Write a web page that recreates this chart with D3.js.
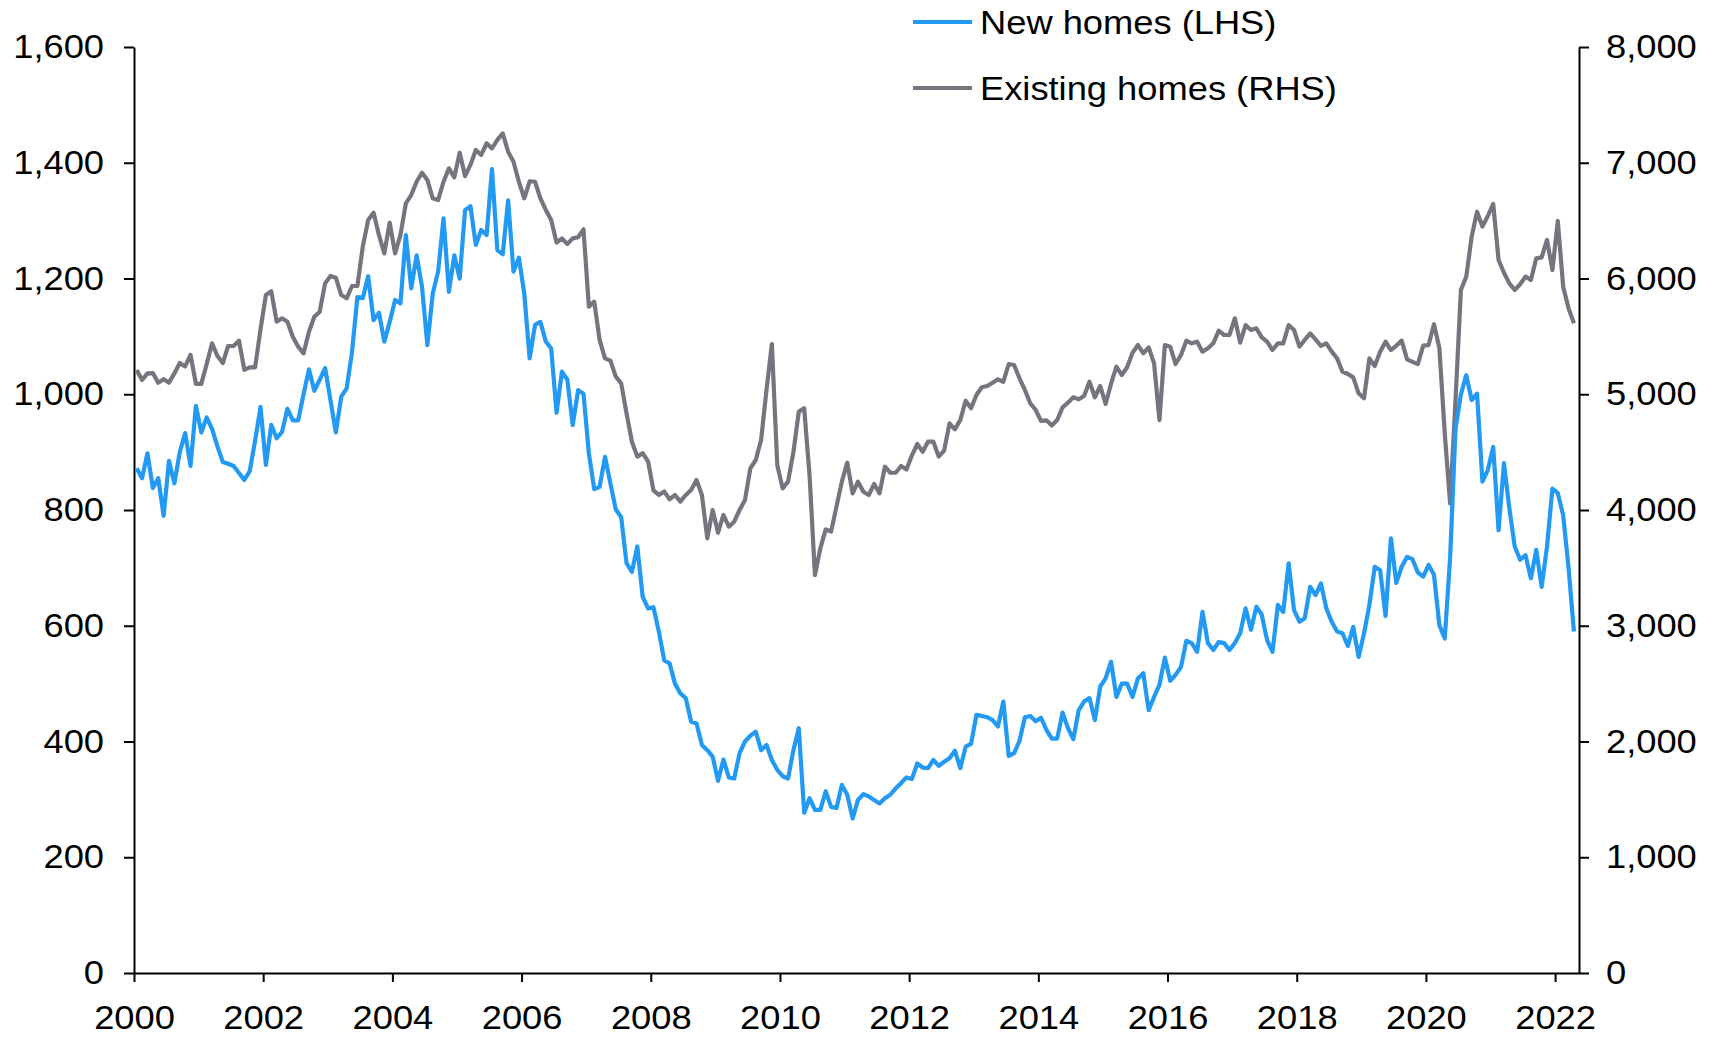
<!DOCTYPE html>
<html><head><meta charset="utf-8">
<script src="https://cdn.jsdelivr.net/npm/d3@7/dist/d3.min.js"></script>
<style>
body{margin:0;background:#fff}
svg{display:block}
text{font-family:"Liberation Sans",Arial,sans-serif;fill:#000}
</style>
</head><body>
<svg id="chart" width="1716" height="1038"></svg>
<script>
// Monthly data, Jan 2000 .. Apr 2022 (thousands, annualised)
const startYear = 2000;
const newHomes = [
872,855,898,838,855,790,885,846,900,933,876,980,
934,960,940,910,883,880,876,864,852,867,920,978,
878,947,924,935,975,955,955,1000,1043,1006,1025,1045,
990,934,996,1010,1073,1168,1166,1204,1128,1141,1091,1125,
1163,1157,1275,1183,1240,1186,1085,1174,1212,1304,1177,1240,
1200,1318,1325,1258,1284,1275,1389,1249,1242,1335,1212,1236,
1174,1062,1120,1125,1091,1079,968,1039,1025,947,1007,1001,
898,836,840,892,846,801,788,708,693,737,650,630,
632,590,540,535,500,483,475,434,431,394,385,374,
332,369,338,336,380,400,410,417,385,394,368,351,
340,336,385,423,277,302,282,282,314,287,285,325,
308,267,299,309,305,299,293,302,308,319,328,338,
335,362,355,354,368,358,365,371,384,354,391,396,
446,444,442,437,426,469,375,380,401,442,444,435,
441,420,405,405,450,423,404,454,469,475,437,495,
509,538,477,500,500,477,509,518,454,477,498,545,
505,515,529,574,570,555,624,570,558,572,570,558,
570,587,630,593,633,619,575,555,636,624,708,627,
607,613,667,653,673,630,607,590,587,565,598,546,
587,636,702,696,617,751,674,702,719,715,692,685,
705,688,601,578,718,940,1000,1033,990,1001,849,869,
909,765,881,803,737,714,722,682,731,667,737,837,
829,791,700,590
];
const existingHomes = [
5210,5123,5180,5183,5100,5130,5100,5180,5270,5240,5340,5090,
5090,5260,5440,5330,5270,5417,5417,5463,5210,5233,5233,5560,
5857,5890,5627,5656,5627,5497,5411,5353,5540,5670,5713,5958,
6022,6007,5857,5829,5935,5935,6275,6505,6568,6376,6217,6482,
6217,6376,6649,6721,6836,6914,6851,6693,6678,6836,6952,6874,
7087,6885,6981,7111,7067,7168,7124,7197,7254,7096,7009,6836,
6693,6840,6836,6693,6592,6505,6310,6347,6298,6347,6356,6425,
5757,5800,5469,5310,5290,5152,5095,4835,4590,4461,4490,4420,
4170,4130,4160,4092,4130,4072,4130,4173,4259,4130,3755,4000,
3804,3957,3856,3899,4000,4086,4360,4432,4605,5037,5434,4389,
4187,4245,4500,4850,4879,4300,3438,3669,3833,3813,4029,4245,
4409,4144,4245,4158,4130,4225,4144,4374,4322,4322,4380,4350,
4470,4570,4504,4590,4590,4461,4513,4749,4697,4777,4944,4879,
4994,5060,5071,5100,5129,5108,5261,5253,5138,5037,4922,4864,
4770,4775,4730,4777,4887,4927,4974,4956,4985,5108,4974,5071,
4916,5089,5238,5166,5233,5359,5425,5354,5405,5267,4777,5425,
5411,5261,5339,5463,5440,5454,5368,5397,5440,5549,5512,5512,
5656,5446,5598,5555,5570,5492,5454,5382,5440,5440,5598,5555,
5411,5470,5526,5474,5417,5440,5368,5310,5195,5175,5146,5008,
4965,5310,5244,5368,5454,5382,5420,5463,5302,5280,5261,5420,
5425,5605,5400,4663,4058,4950,5901,6016,6361,6577,6448,6540,
6644,6160,6050,5958,5901,5950,6016,5987,6174,6183,6333,6073,
6497,5929,5742,5613
];
const leftTicks = [0,200,400,600,800,1000,1200,1400,1600];
const rightTicks = [0,1000,2000,3000,4000,5000,6000,7000,8000];
const yearTicks = [2000,2002,2004,2006,2008,2010,2012,2014,2016,2018,2020,2022];
const seriesNames = ["New homes (LHS)","Existing homes (RHS)"];
const seriesColors = ["#2299F2","#76757F"];

const svg = d3.select("#chart");
const FS = 33, SX = 1.1;
const x = d3.scaleLinear().domain([2000, 2022.37]).range([134, 1579]);
const yL = d3.scaleLinear().domain([0, 1600]).range([973, 47]);
const yR = d3.scaleLinear().domain([0, 8000]).range([973, 47]);
const t = i => startYear + (i + 0.5) / 12;

function styleAxis(g, xOff){
  g.selectAll("path.domain").attr("stroke","#000").attr("stroke-width",2);
  g.selectAll(".tick line").attr("stroke","#000").attr("stroke-width",2);
  g.selectAll(".tick text")
    .attr("font-size",FS).attr("font-family","'Liberation Sans',Arial,sans-serif").attr("fill","#000")
    .attr("transform",`scale(${SX},1)`);
  if (xOff !== null) g.selectAll(".tick text").attr("x", xOff / SX);
}

const gL = svg.append("g").attr("transform","translate(134,0)")
  .call(d3.axisLeft(yL).tickValues(leftTicks).tickFormat(d3.format(",")).tickSize(10).tickSizeOuter(0));
styleAxis(gL, -30);
const gR = svg.append("g").attr("transform","translate(1579,0)")
  .call(d3.axisRight(yR).tickValues(rightTicks).tickFormat(d3.format(",")).tickSize(10).tickSizeOuter(0));
styleAxis(gR, 27);
const gB = svg.append("g").attr("transform","translate(0,973)")
  .call(d3.axisBottom(x).tickValues(yearTicks).tickFormat(d3.format("d")).tickSize(9).tickSizeOuter(0).tickPadding(24));
styleAxis(gB, null);

const lineL = d3.line().x((d,i)=>x(t(i))).y(d=>yL(d));
const lineR = d3.line().x((d,i)=>x(t(i))).y(d=>yR(d));

svg.append("path").datum(existingHomes).attr("d",lineR)
  .attr("fill","none").attr("stroke",seriesColors[1]).attr("stroke-width",4.2).attr("stroke-linejoin","round");
svg.append("path").datum(newHomes).attr("d",lineL)
  .attr("fill","none").attr("stroke",seriesColors[0]).attr("stroke-width",4.2).attr("stroke-linejoin","round");

// legend
const leg = svg.append("g");
seriesNames.forEach((n,i)=>{
  const yy = 22 + i*66;
  leg.append("line").attr("x1",913).attr("x2",972).attr("y1",yy).attr("y2",yy)
    .attr("stroke",seriesColors[i]).attr("stroke-width",4.2);
  leg.append("g").attr("transform",`translate(980,${yy})`)
    .append("text").attr("dy","0.35em").attr("transform",`scale(${SX},1)`)
    .attr("font-size",FS).text(n);
});
</script>
</body></html>
